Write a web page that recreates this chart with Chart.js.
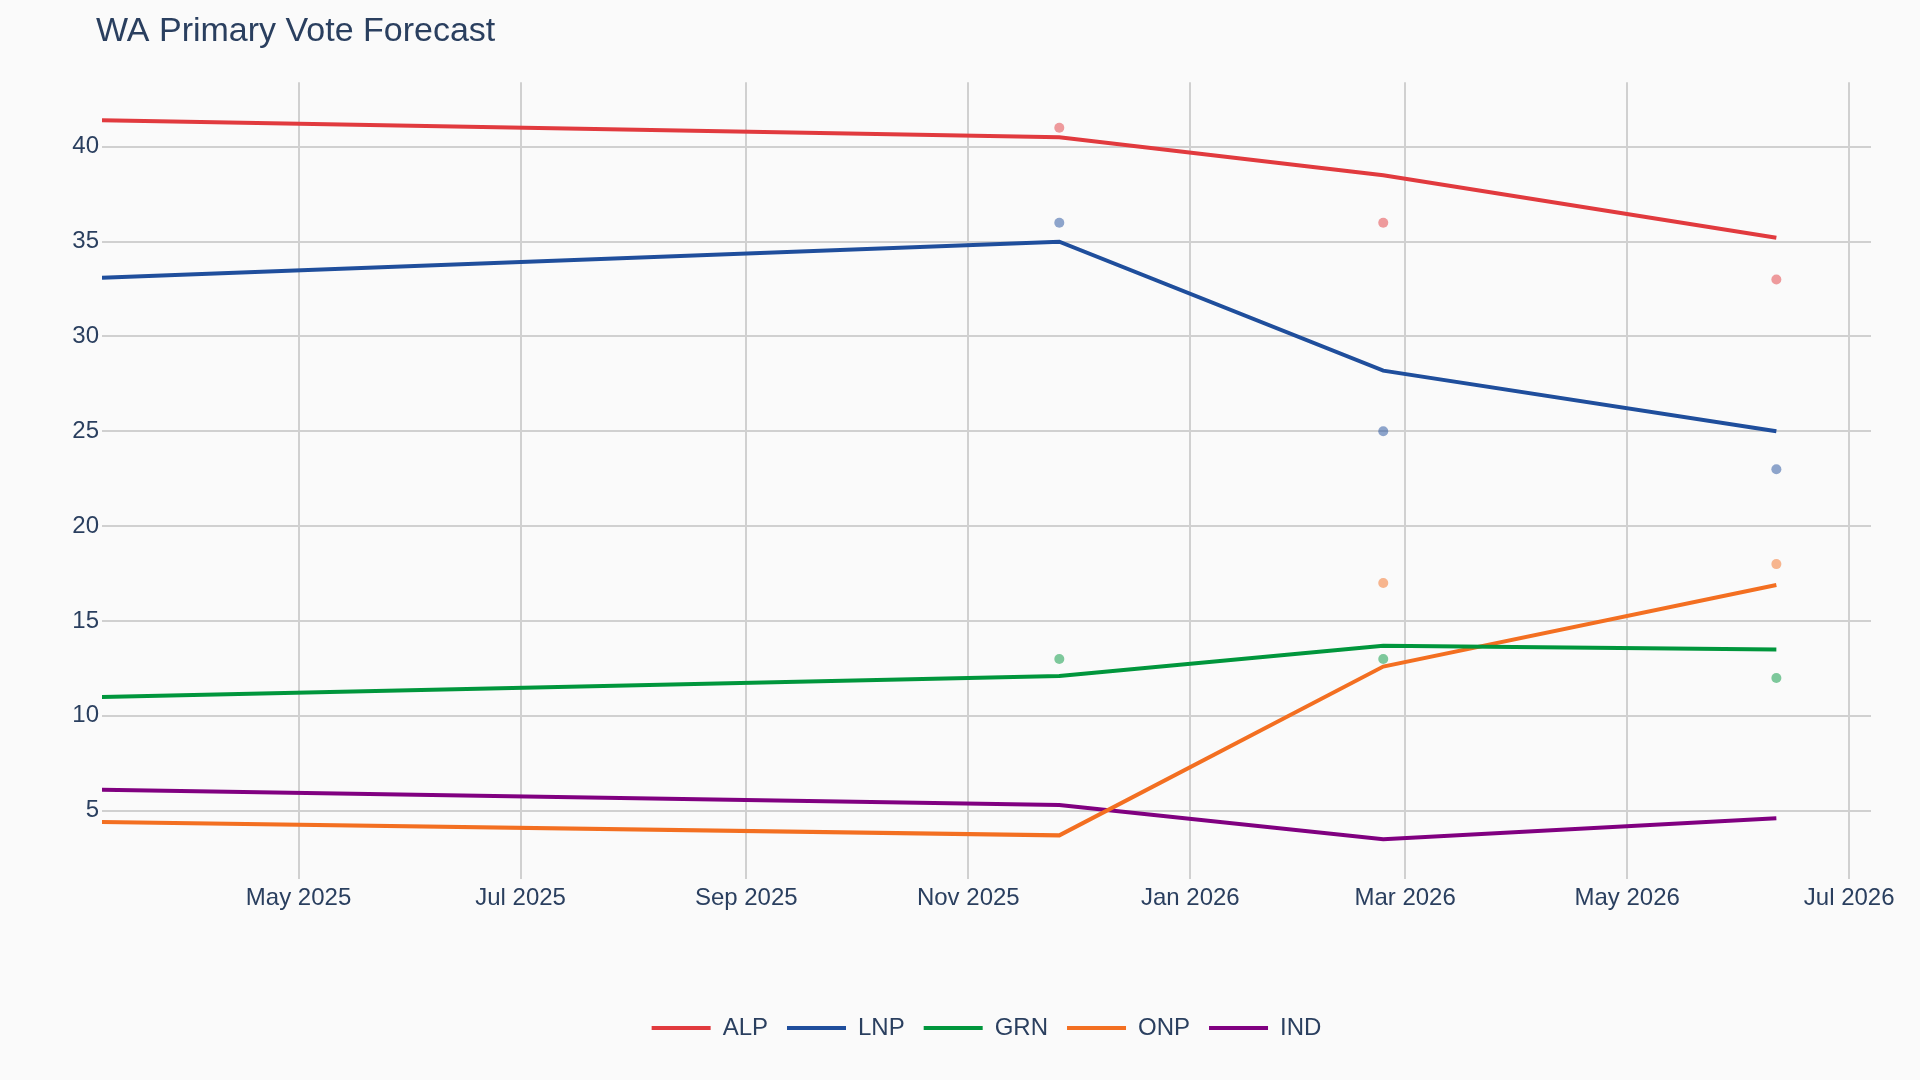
<!DOCTYPE html>
<html>
<head>
<meta charset="utf-8">
<title>WA Primary Vote Forecast</title>
<script src="https://cdn.jsdelivr.net/npm/chart.js@4.4.1/dist/chart.umd.min.js"></script>
<style>
  html, body { margin: 0; padding: 0; background: #fafafa; }
</style>
</head>
<body>
<canvas id="chart-line" width="1920" height="1080"></canvas>
<script>
// forecast line: election result, then each model update
const lineDates = ["2025-03-08", "2025-11-26", "2026-02-23", "2026-06-11"];
const alpLine = [41.4, 40.5, 38.5, 35.2];
const lnpLine = [33.1, 35.0, 28.2, 25.0];
const grnLine = [11.0, 12.1, 13.7, 13.5];
const onpLine = [4.4, 3.7, 12.6, 16.9];
const indLine = [6.1, 5.3, 3.5, 4.6];

// raw polls
const pollDates = ["2025-11-26", "2026-02-23", "2026-06-11"];
const alpPolls = [41, 36, 33];
const lnpPolls = [36, 25, 23];
const grnPolls = [13, 13, 12];
const onpPolls = [null, 17, 18];

const xTickDates = ["2025-05-01", "2025-07-01", "2025-09-01", "2025-11-01",
  "2026-01-01", "2026-03-01", "2026-05-01", "2026-07-01"];
const xTickLabels = ["May 2025", "Jul 2025", "Sep 2025", "Nov 2025",
  "Jan 2026", "Mar 2026", "May 2026", "Jul 2026"];
const yTicks = [5, 10, 15, 20, 25, 30, 35, 40];
const xRange = ["2025-03-08", "2026-07-07"];
const yRange = [1.4, 43.4];

const FONT = "'Liberation Sans', Arial, sans-serif";
const TEXT = "#2a3f5f";

const toPoints = (dates, values) =>
  dates.map((d, i) => ({ x: Date.parse(d), y: values[i] }));

const lineSet = (label, color, values) => ({
  label,
  data: toPoints(lineDates, values),
  borderColor: color,
  backgroundColor: color,
  borderWidth: 4,
  tension: 0,
  pointRadius: 0,
  fill: false,
});

const pollSet = (label, color, values) => ({
  label: label + " polls",
  isPoll: true,
  data: toPoints(pollDates, values),
  showLine: false,
  pointRadius: 5,
  pointBorderWidth: 0,
  pointBackgroundColor: color,
  borderColor: color,
});

// title sits a little left of the plot area, like the original
const titleShift = {
  id: "titleShift",
  afterLayout(chart) {
    if (chart.titleBlock) chart.titleBlock.left = 96;
  },
};

const ctx = document.getElementById("chart-line").getContext("2d");
new Chart(ctx, {
  type: "line",
  data: {
    datasets: [
      lineSet("ALP", "#e13a3e", alpLine),
      lineSet("LNP", "#1f4e9c", lnpLine),
      lineSet("GRN", "#00963c", grnLine),
      lineSet("ONP", "#f36f21", onpLine),
      lineSet("IND", "#800080", indLine),
      pollSet("ALP", "rgba(225,58,62,0.5)", alpPolls),
      pollSet("LNP", "rgba(31,78,156,0.5)", lnpPolls),
      pollSet("GRN", "rgba(0,150,60,0.5)", grnPolls),
      pollSet("ONP", "rgba(243,111,33,0.5)", onpPolls),
    ],
  },
  plugins: [titleShift],
  options: {
    responsive: false,
    animation: false,
    layout: { padding: { left: 0, right: 49, top: 0, bottom: 30 } },
    plugins: {
      title: {
        display: true,
        text: "WA Primary Vote Forecast",
        align: "start",
        fullSize: false,
        color: TEXT,
        font: { size: 34, weight: "normal", family: FONT },
        padding: { top: 11, bottom: 30.5 },
      },
      legend: {
        position: "bottom",
        fullSize: false,
        labels: {
          boxWidth: 59,
          boxHeight: 4,
          padding: 19,
          color: TEXT,
          font: { size: 24, family: FONT },
          generateLabels: (chart) =>
            chart.data.datasets
              .map((ds, i) => ({
                text: ds.label,
                fillStyle: ds.borderColor,
                strokeStyle: ds.borderColor,
                fontColor: TEXT,
                lineWidth: 0,
                hidden: false,
                datasetIndex: i,
              }))
              .filter((item) => !chart.data.datasets[item.datasetIndex].isPoll),
        },
      },
      tooltip: { enabled: false },
    },
    scales: {
      x: {
        type: "linear",
        min: Date.parse(xRange[0]),
        max: Date.parse(xRange[1]),
        afterBuildTicks: (scale) => {
          scale.ticks = xTickDates.map((d) => ({ value: Date.parse(d) }));
        },
        afterFit: (scale) => {
          scale.height = 118;
        },
        grid: { color: "#d0d0d0", lineWidth: 2, drawTicks: false },
        border: { display: false },
        ticks: {
          color: TEXT,
          padding: 5,
          maxRotation: 0,
          autoSkip: false,
          font: { size: 24, family: FONT },
          callback: (value, index) => xTickLabels[index],
        },
      },
      y: {
        min: yRange[0],
        max: yRange[1],
        afterBuildTicks: (scale) => {
          scale.ticks = yTicks.map((v) => ({ value: v }));
        },
        afterFit: (scale) => {
          scale.width = 102;
        },
        grid: { color: "#d0d0d0", lineWidth: 2, drawTicks: false },
        border: { display: false },
        ticks: {
          color: TEXT,
          padding: 3,
          font: { size: 24, family: FONT },
        },
      },
    },
  },
});
</script>
</body>
</html>
